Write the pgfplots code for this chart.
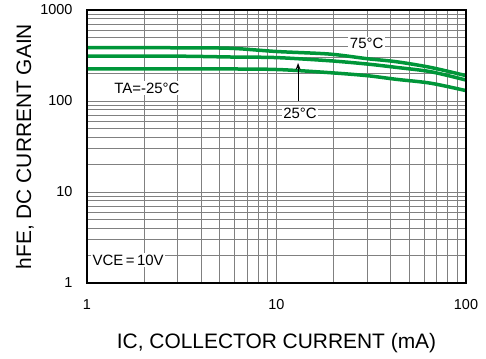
\documentclass[border=0pt]{standalone}
\usepackage{fontspec}
\setmainfont{Liberation Sans}
\usepackage{pgfplots}
\pgfplotsset{compat=1.18}
\usetikzlibrary{arrows.meta,calc}
\definecolor{cgreen}{RGB}{0,150,57}
\definecolor{cgrid}{RGB}{128,128,128}
\begin{document}
\begin{tikzpicture}
\begin{axis}[
  scale only axis,
  width=379bp, height=273bp,
  xmode=log, ymode=log,
  xmin=1, xmax=100, ymin=1, ymax=1000,
  log ticks with fixed point,
  /pgf/number format/1000 sep={},
  /pgf/number format/assume math mode=true,
  grid=both,
  major grid style={cgrid, line width=0.8bp},
  minor grid style={cgrid, line width=0.8bp},
  major tick length=0pt, minor tick length=0pt,
  axis line style={black, line width=1.5bp},
  tick label style={font=\fontsize{14.5}{17}\selectfont},
  xticklabel style={yshift=-13bp},
  yticklabel style={xshift=-11bp},
  xlabel={IC, COLLECTOR CURRENT (mA)},
  ylabel={hFE, DC CURRENT GAIN},
  label style={font=\fontsize{21}{24}\selectfont},
  xlabel style={at={($(axis description cs:0.5,0)+(0,-60bp)$)}, anchor=center},
  ylabel style={at={($(axis description cs:0,0.5)+(-62bp,0)$)}, anchor=center},
]
\addplot[cgreen, line width=3.5bp, smooth] coordinates {
(1,385) (2,385) (4,384) (6,378) (10,350) (19,328) (30,292) (43,270) (65,234) (100,190)};
\addplot[cgreen, line width=3.5bp, smooth] coordinates {
(1,312) (3,311) (6,304) (10,300) (19,277) (30,255) (43,234) (65,210) (100,170)};
\addplot[cgreen, line width=3.5bp, smooth] coordinates {
(1,225) (5,225) (10,222) (19,205) (30,190) (43,173) (65,157) (100,130)};
\draw[line width=3bp, black] (axis description cs:0,1) -- (axis description cs:0,0) -- (axis description cs:1,0) -- (axis description cs:1,1);
\draw[-{Stealth[length=7bp,width=5bp]}, line width=1bp] (axis cs:13,100) -- (axis cs:13,262);
\node[fill=white, inner sep=1.5bp, font=\fontsize{15}{18}\selectfont] at (axis cs:29.9,430) {75°C};
\node[fill=white, inner sep=1.5bp, font=\fontsize{15}{18}\selectfont] at (axis cs:13.3,74) {25°C};
\node[fill=white, inner sep=1.5bp, font=\fontsize{15}{18}\selectfont] at (axis cs:2.07,138) {TA=-25°C};
\node[fill=white, inner sep=1.5bp, font=\fontsize{15}{18}\selectfont] at (axis cs:1.65,1.79) {VCE\,=\,10V};
\end{axis}
\pgfresetboundingbox
\path (-87bp,-76bp) rectangle (399bp,283bp);
\end{tikzpicture}
\end{document}
